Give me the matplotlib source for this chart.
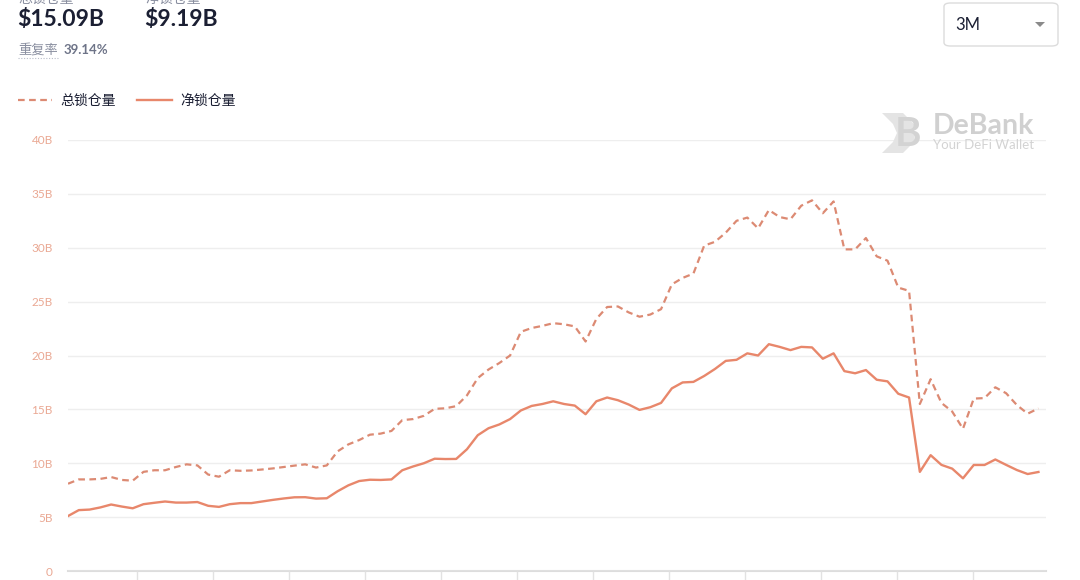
import matplotlib
matplotlib.use("Agg")
import matplotlib.pyplot as plt
from matplotlib.patches import FancyBboxPatch, Polygon
import numpy as np

plt.rcParams['font.family'] = ['Lato', 'Noto Sans CJK SC', 'DejaVu Sans']

# daily values over the 3M window (billions USD)
days = list(range(91))
total_locked = [
    8.1, 8.5, 8.5, 8.55, 8.72, 8.45, 8.38, 9.2, 9.35, 9.35,
    9.65, 9.9, 9.8, 8.95, 8.75, 9.35, 9.3, 9.33, 9.42, 9.52,
    9.65, 9.78, 9.9, 9.6, 9.8, 11.1, 11.75, 12.15, 12.65, 12.75,
    13.0, 14.0, 14.1, 14.4, 15.05, 15.1, 15.3, 16.3, 17.9, 18.7,
    19.3, 20.0, 22.2, 22.55, 22.75, 23.0, 22.9, 22.7, 21.3, 23.4,
    24.5, 24.55, 24.0, 23.6, 23.8, 24.3, 26.6, 27.2, 27.6, 30.2,
    30.55, 31.4, 32.5, 32.8, 31.8, 33.5, 32.85, 32.64, 33.9, 34.4,
    33.2, 34.3, 29.85, 29.85, 30.9, 29.2, 28.8, 26.3, 26.0, 15.5,
    17.8, 15.6, 14.8, 13.2, 16.0, 16.05, 17.05, 16.5, 15.4, 14.6,
    15.09,
]
net_locked = [
    5.1, 5.65, 5.7, 5.9, 6.17, 5.98, 5.82, 6.2, 6.33, 6.45,
    6.35, 6.35, 6.4, 6.05, 5.95, 6.2, 6.3, 6.3, 6.45, 6.6,
    6.73, 6.84, 6.85, 6.72, 6.75, 7.4, 7.95, 8.35, 8.47, 8.45,
    8.5, 9.35, 9.7, 10.0, 10.42, 10.39, 10.4, 11.3, 12.6, 13.25,
    13.6, 14.1, 14.9, 15.32, 15.5, 15.75, 15.5, 15.35, 14.55, 15.75,
    16.1, 15.85, 15.45, 14.95, 15.2, 15.6, 16.95, 17.5, 17.55, 18.1,
    18.75, 19.5, 19.6, 20.2, 20.0, 21.05, 20.8, 20.5, 20.8, 20.75,
    19.7, 20.2, 18.55, 18.35, 18.65, 17.75, 17.6, 16.45, 16.1, 9.2,
    10.75, 9.85, 9.5, 8.6, 9.84, 9.84, 10.35, 9.85, 9.37, 9.0,
    9.19,
]
y_ticks = [0, 5, 10, 15, 20, 25, 30, 35, 40]
y_labels = ['0', '5B', '10B', '15B', '20B', '25B', '30B', '35B', '40B']
week_ticks = np.arange(6.4, 91, 7.05)

W, H = 1080, 580
LINE = '#E8876B'
DASH = '#DC8A73'


def fx(px):
    return px / W


def fy(py):
    return 1 - py / H


fig = plt.figure(figsize=(W / 100, H / 100), dpi=100)
fig.patch.set_facecolor('white')

ax = fig.add_axes([fx(68), fy(571), (1046 - 68) / W, (571 - 140) / H])
ax.plot(days, total_locked, color=DASH, lw=1.6, ls=(0, (3, 2)))
ax.plot(days, net_locked, color=LINE, lw=1.7)

ax.set_xlim(0, 90.7)
ax.set_ylim(0, 40)
ax.set_yticks(y_ticks)
ax.set_yticklabels(y_labels)
ax.set_xticks(week_ticks)
ax.set_xticklabels([])
ax.tick_params(axis='y', length=0, pad=11, labelsize=8.5, labelcolor='#EAA893')
ax.tick_params(axis='x', length=7, width=1, color='#E2E2E2', direction='out')
ax.grid(axis='y', color='#EEEEEE', lw=1)
ax.set_axisbelow(True)
for s in ['top', 'right', 'left']:
    ax.spines[s].set_visible(False)
ax.spines['bottom'].set_color('#DDDDDD')
ax.spines['bottom'].set_linewidth(1.5)
ax.spines['bottom'].set_zorder(0)

# header (cut off at the top edge, as in the screenshot)
fig.text(fx(18), fy(5), '总锁仓量', fontsize=10, color='#8A8FA0', va='bottom')
fig.text(fx(145), fy(5), '净锁仓量', fontsize=10, color='#8A8FA0', va='bottom')
fig.text(fx(17), fy(20), '$15.09B', fontsize=16.5, fontweight='bold',
         color='#1B1F33', va='center')
fig.text(fx(144), fy(20), '$9.19B', fontsize=16.5, fontweight='bold',
         color='#1B1F33', va='center')
fig.text(fx(18), fy(50), '重复率', fontsize=9.5, color='#8A8FA0', va='center')
fig.text(fx(64), fy(50), '39.14%', fontsize=9.5, fontweight='bold',
         color='#6E7488', va='center')
fig.add_artist(plt.Line2D([fx(18), fx(58)], [fy(58), fy(58)], color='#B8BCC8',
                          lw=0.8, ls=(0, (1, 1.5))))

# legend
fig.add_artist(plt.Line2D([fx(18), fx(52)], [fy(100), fy(100)], color=DASH,
                          lw=1.6, ls=(0, (3, 2))))
fig.text(fx(60), fy(100), '总锁仓量', fontsize=10, color='#1B1F33', va='center')
fig.add_artist(plt.Line2D([fx(137), fx(172)], [fy(100), fy(100)], color=LINE,
                          lw=1.7))
fig.text(fx(180), fy(100), '净锁仓量', fontsize=10, color='#1B1F33', va='center')

# period dropdown
box = FancyBboxPatch((fx(944), fy(46)), fx(1058) - fx(944), fy(3) - fy(46),
                     boxstyle='round,pad=0,rounding_size=0.006',
                     transform=fig.transFigure, facecolor='white',
                     edgecolor='#DCDCDC', lw=1)
fig.add_artist(box)
fig.text(fx(955), fy(25), '3M', fontsize=12, color='#1B1F33', va='center')
fig.add_artist(Polygon([[fx(1035), fy(22)], [fx(1045), fy(22)], [fx(1040), fy(27)]],
                       closed=True, transform=fig.transFigure,
                       facecolor='#8A8A8A', edgecolor='none'))

# DeBank watermark
fig.add_artist(Polygon([[fx(882), fy(113)], [fx(903), fy(113)], [fx(914), fy(124)],
                        [fx(914), fy(142)], [fx(903), fy(153)], [fx(882), fy(153)],
                        [fx(893), fy(142)], [fx(897), fy(133)], [fx(893), fy(124)]],
                       closed=True, transform=fig.transFigure,
                       facecolor='#E4E4E4', edgecolor='none'))
fig.text(fx(895), fy(134), 'B', fontsize=29, fontweight='bold',
         color='#D3D3D3', va='center')
fig.text(fx(933), fy(126), 'DeBank', fontsize=20.5, fontweight='bold',
         color='#D0D0D0', va='center')
fig.text(fx(933), fy(145), 'Your DeFi Wallet', fontsize=9.5, color='#D3D3D3',
         va='center')

fig.savefig('out.png', dpi=100, facecolor='white')
